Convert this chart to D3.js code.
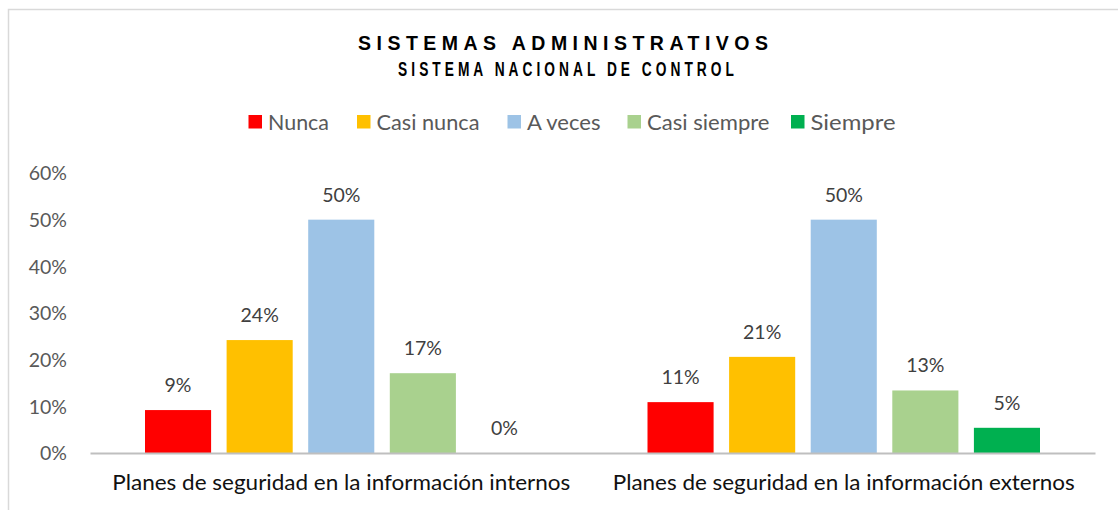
<!DOCTYPE html>
<html><head><meta charset="utf-8">
<script src="https://cdn.jsdelivr.net/npm/d3@7"></script>
<style>body{margin:0;background:#fff}svg{display:block}</style>
</head><body>
<svg id="c" width="1118" height="510"></svg>
<script>
const categories = ["Planes de seguridad en la información internos", "Planes de seguridad en la información externos"];
const seriesNames = ["Nunca", "Casi nunca", "A veces", "Casi siempre", "Siempre"];
const seriesColors = ["#ff0000", "#ffc000", "#9dc3e6", "#a9d18e", "#00b050"];
const nunca = [0.092, 0.109];
const casiNunca = [0.242, 0.206];
const aVeces = [0.50, 0.50];
const casiSiempre = [0.171, 0.134];
const siempre = [0.0, 0.054];
const yTicks = [0, 0.1, 0.2, 0.3, 0.4, 0.5, 0.6];
const titleText = "SISTEMAS ADMINISTRATIVOS";
const subtitleText = "SISTEMA NACIONAL DE CONTROL";

(function () {
const values = [nunca, casiNunca, aVeces, casiSiempre, siempre];
const svg = d3.select("#c");

// frame
svg.append("path").attr("d", "M8.5,510 V9.5 H1118").attr("fill", "none").attr("stroke", "#d9d9d9").attr("stroke-width", 1.5);

const mLeft = 90, mRight = 1095, mTop = 173, mBottom = 453;
const x0 = d3.scaleBand().domain(categories).range([mLeft, mRight]).paddingInner(0).paddingOuter(0);
const x1 = d3.scaleBand().domain(seriesNames).range([55, x0.bandwidth() - 55]).paddingInner(0.19).paddingOuter(0);
const y = d3.scaleLinear().domain([0, 0.6]).range([mBottom, mTop]);
const color = d3.scaleOrdinal().domain(seriesNames).range(seriesColors);
const pct = d3.format(".0%");

// y axis labels
const yAxis = d3.axisLeft(y).tickValues(yTicks).tickFormat(pct).tickSize(0).tickPadding(0);
const ya = svg.append("g").attr("transform", `translate(67,0)`).call(yAxis);
ya.select(".domain").remove();
ya.selectAll("text").attr("font-family", "Lato, 'Open Sans', sans-serif").attr("font-size", 19.5).attr("fill", "#595959").attr("dy", "0.35em");

// bars
const groups = svg.append("g").selectAll("g").data(categories).join("g")
  .attr("transform", d => `translate(${x0(d)},0)`);
groups.each(function(cat, ci) {
  const g = d3.select(this);
  const rows = seriesNames.map((s, si) => ({s, v: values[si][ci]}));
  g.selectAll("rect").data(rows).join("rect")
    .attr("x", d => x1(d.s)).attr("width", x1.bandwidth())
    .attr("y", d => y(d.v)).attr("height", d => y(0) - y(d.v))
    .attr("fill", d => color(d.s));
  g.selectAll("text").data(rows).join("text")
    .attr("x", d => x1(d.s) + x1.bandwidth() / 2)
    .attr("y", d => y(d.v) - 18)
    .attr("text-anchor", "middle")
    .attr("font-family", "Lato, 'Open Sans', sans-serif").attr("font-size", 19.5).attr("fill", "#404040")
    .text(d => pct(d.v));
});

// x axis
const xAxis = d3.axisBottom(x0).tickSize(0).tickPadding(0);
const xa = svg.append("g").attr("transform", `translate(0,${mBottom})`).call(xAxis);
xa.select(".domain").attr("stroke", "#bfbfbf").attr("stroke-width", 2.2);
xa.selectAll("text").attr("font-family", "Lato, 'Open Sans', sans-serif").attr("font-size", 21).attr("fill", "#111")
  .attr("dy", 0).attr("y", 37)
  .attr("textLength", (d, i) => i === 0 ? 458 : 462).attr("lengthAdjust", "spacingAndGlyphs");

// title
svg.append("text").attr("x", 563).attr("y", 50).attr("text-anchor", "middle")
  .attr("font-family", "'Liberation Sans', Arial, sans-serif").attr("font-weight", "bold").attr("font-size", 19.5)
  .attr("fill", "#000").attr("textLength", 410).attr("lengthAdjust", "spacing").text(titleText);
const sub = svg.append("text").attr("x", 0).attr("y", 0).attr("text-anchor", "middle")
  .attr("font-family", "'Liberation Sans', Arial, sans-serif").attr("font-weight", "bold").attr("font-size", 20.5)
  .attr("letter-spacing", 6).attr("fill", "#000").text(subtitleText);
const subL = sub.node().getComputedTextLength();
sub.attr("transform", `translate(568,75.5) scale(${340 / subL},1)`);

// legend
const legendX = [248.5, 357, 507.5, 627.5, 791];
const legendW = [61, 103, 73.5, 122.5, 85];
const lg = svg.append("g").selectAll("g").data(seriesNames).join("g")
  .attr("transform", (d, i) => `translate(${legendX[i]},115)`);
lg.append("rect").attr("width", 13.5).attr("height", 13.5).attr("fill", d => color(d));
lg.append("text").attr("x", 19.5).attr("y", 6.75).attr("dy", "0.36em")
  .attr("font-family", "Lato, 'Open Sans', sans-serif").attr("font-size", 22).attr("fill", "#595959")
  .attr("textLength", (d, i) => legendW[i]).attr("lengthAdjust", "spacingAndGlyphs").text(d => d);
})();
</script>
</body></html>
